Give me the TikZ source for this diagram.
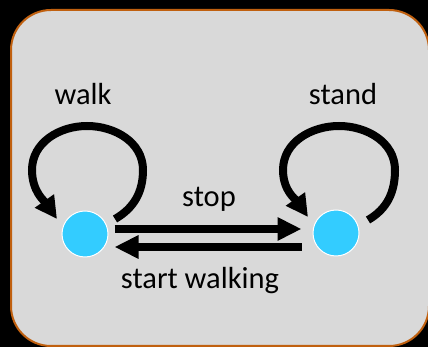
\documentclass[tikz,border=0pt]{standalone}
\usepackage{fontspec}
\setmainfont{Carlito}
\usetikzlibrary{arrows.meta}
\definecolor{panel}{HTML}{D9D9D9}
\definecolor{rim}{HTML}{C0600F}
\definecolor{state}{HTML}{33CCFF}
\tikzset{
  statenode/.style={circle,fill=state,draw=white,line width=1pt,minimum size=46pt,inner sep=0pt},
  lbl/.style={font=\fontsize{30.5}{34}\selectfont,text=black,anchor=base,inner sep=0pt},
  bigarrow/.style={line width=8pt,-{Triangle[length=24pt,width=22pt]}},
  loopline/.style={line width=8pt,-{Triangle[length=22pt,width=22pt]}},
}
\begin{document}
\begin{tikzpicture}[x=1pt,y=1pt]
\fill[black] (0,0) rectangle (428,347);
\useasboundingbox (0,0) rectangle (428,347);
\draw[rim,fill=panel,line width=2pt,rounded corners=40pt] (11,1) rectangle (429,337);
\node[statenode] (L) at (85,113) {};
\node[statenode] (R) at (336,114) {};
\draw[bigarrow,shorten <=6pt,shorten >=11pt] ([yshift=5pt]L.east) -- ([yshift=4pt]R.west);
\draw[bigarrow,shorten <=11pt,shorten >=6pt] ([yshift=-14pt]R.west) -- ([yshift=-13pt]L.east);
\coordinate (la) at (115,128);
\coordinate (lb) at (57,128);
\draw[loopline] (la) to[out=30,in=-90] (143,177) to[out=90,in=0] (87,221) to[out=180,in=90] (32,177) to[out=-90,in=125] (lb);
\coordinate (ra) at (368,127);
\coordinate (rb) at (308,130);
\draw[loopline] (ra) to[out=30,in=-90] (395,177) to[out=90,in=0] (339,221) to[out=180,in=90] (283,177) to[out=-90,in=125] (rb);
\node[lbl] (walk) at (83,242) {walk};
\node[lbl] (stand) at (343,242) {stand};
\node[lbl] (stop) at (209,140) {stop};
\node[lbl] (sw) at (200,58) {start walking};
\end{tikzpicture}
\end{document}
